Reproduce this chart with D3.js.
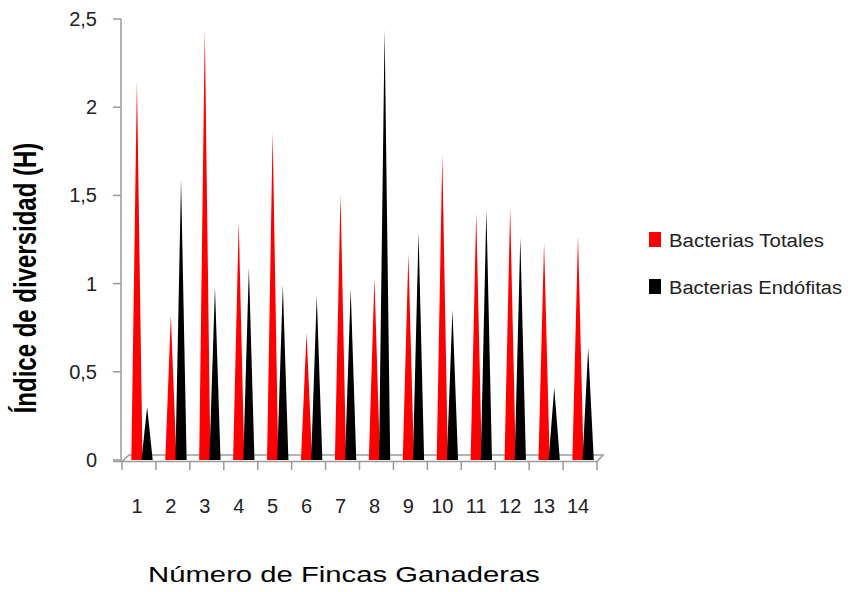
<!DOCTYPE html>
<html><head><meta charset="utf-8">
<script src="https://cdn.jsdelivr.net/npm/d3@7"></script>
<style>body{margin:0;background:#fff}svg{display:block}</style>
</head><body>
<svg id="c" width="848" height="592"></svg>
<script>
const categories = ["1","2","3","4","5","6","7","8","9","10","11","12","13","14"];
const seriesNames = ["Bacterias Totales","Bacterias Endófitas"];
const totales =   [2.15,0.82,2.44,1.35,1.86,0.72,1.51,1.03,1.17,1.73,1.40,1.43,1.23,1.27];
const endofitas = [0.30,1.59,0.98,1.09,0.99,0.93,0.97,2.44,1.29,0.85,1.42,1.26,0.41,0.635];
const yTicks = [0,0.5,1,1.5,2,2.5];
const yTickLabels = ["0","0,5","1","1,5","2","2,5"];
const colors = ["#ff0000","#000000"];

const svg = d3.select("#c");
const x = d3.scaleBand().domain(categories).range([122,597]).padding(0);
const xs = d3.scalePoint().domain(seriesNames).range([0.44,0.74]);
const y = d3.scaleLinear().domain([0,2.5]).range([460,19]);
const gray = "#9a9a9a";

// floor (3D)
const fl = svg.append("g").attr("stroke",gray).attr("stroke-width",1.5).attr("fill","none");
fl.append("path").attr("d",`M113,461.5 L597,461.5 L603,455 L129,455 L122,461.5`);
// x ticks
fl.selectAll("line.xt").data(d3.range(categories.length+1)).join("line")
  .attr("x1",i=>x.range()[0]+i*x.bandwidth()).attr("x2",i=>x.range()[0]+i*x.bandwidth())
  .attr("y1",461.5).attr("y2",470);
// y axis line + ticks
fl.append("line").attr("x1",121).attr("x2",121).attr("y1",y(2.5)).attr("y2",462);
fl.selectAll("line.yt").data(yTicks).join("line")
  .attr("x1",113).attr("x2",121).attr("y1",d=>y(d)).attr("y2",d=>y(d));

// y tick labels
svg.append("g").selectAll("text").data(yTicks).join("text")
  .attr("x",97).attr("y",d=>y(d)+7).attr("text-anchor","end")
  .attr("font-family","Liberation Sans, Arial, sans-serif").attr("font-size",20).attr("fill","#222")
  .text((d,i)=>yTickLabels[i]);

// x tick labels
svg.append("g").selectAll("text").data(categories).join("text")
  .attr("x",d=>x(d)+x.bandwidth()/2-2).attr("y",513).attr("text-anchor","middle")
  .attr("font-family","Liberation Sans, Arial, sans-serif").attr("font-size",20).attr("fill","#222")
  .text(d=>d);

// cones
const half = 5.6;
const series = [totales, endofitas];
series.forEach((vals,si)=>{
  svg.append("g").selectAll("path").data(vals).join("path")
    .attr("fill",colors[si])
    .attr("d",(v,i)=>{
      const cx = x(categories[i]) + xs(seriesNames[si])*x.bandwidth();
      return `M${cx-half},${y(0)} L${cx},${y(v)} L${cx+half},${y(0)} Z`;
    });
});

// axis titles
svg.append("text").attr("transform","translate(36,278) scale(1.3,1) rotate(-90)")
  .attr("text-anchor","middle").attr("font-family","Liberation Sans, Arial, sans-serif")
  .attr("font-weight","bold").attr("font-size",24).attr("fill","#000")
  .text("Índice de diversidad (H)");
svg.append("text").attr("transform","translate(344,582) scale(1.33,1)")
  .attr("text-anchor","middle").attr("font-family","Liberation Sans, Arial, sans-serif")
  .attr("font-size",22).attr("fill","#000")
  .text("Número de Fincas Ganaderas");

// legend
const lg = svg.append("g");
const legY = [232,279];
const legW = [155,173];
seriesNames.forEach((n,i)=>{
  lg.append("rect").attr("x",649).attr("y",legY[i]).attr("width",12).attr("height",15).attr("fill",colors[i]);
  lg.append("text").attr("x",669).attr("y",legY[i]+15)
    .attr("font-family","Liberation Sans, Arial, sans-serif").attr("font-size",18).attr("fill","#222")
    .attr("textLength",legW[i]).attr("lengthAdjust","spacingAndGlyphs").text(n);
});
</script>
</body></html>
